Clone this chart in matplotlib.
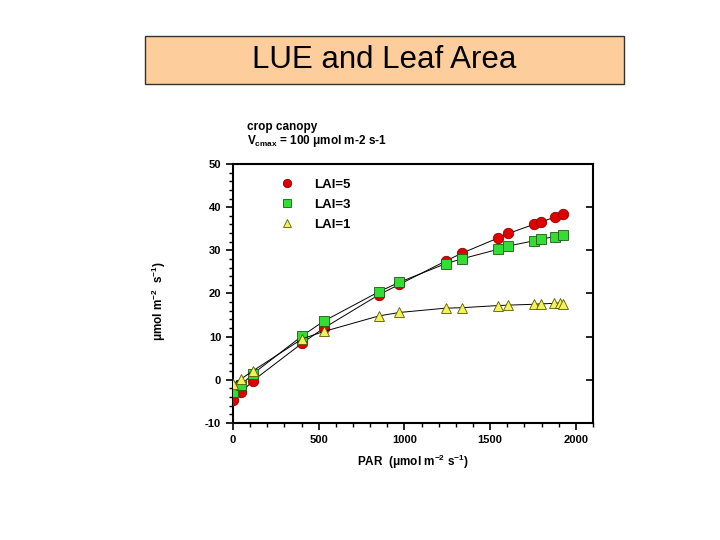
import matplotlib
matplotlib.use("Agg")
import matplotlib.pyplot as plt
from matplotlib.patches import Rectangle
from matplotlib.ticker import MultipleLocator

plt.rcParams['font.family'] = ['Liberation Sans', 'DejaVu Sans']
plt.rcParams['mathtext.default'] = 'regular'
plt.rcParams['axes.unicode_minus'] = False

# PAR (umol m-2 s-1)
par = [0, 47, 117, 404, 530, 851, 970, 1240, 1333, 1543, 1606, 1754, 1799, 1878, 1925]
par_lai1 = [0, 47, 117, 404, 530, 851, 970, 1240, 1333, 1543, 1606, 1754, 1799, 1870, 1905, 1925]

lai5 = [-4.6, -2.9, -0.2, 8.5, 12.0, 19.7, 22.1, 27.5, 29.3, 32.8, 33.9, 36.0, 36.6, 37.7, 38.3]
lai3 = [-2.9, -1.2, 1.4, 10.2, 13.6, 20.4, 22.6, 26.9, 28.0, 30.2, 31.0, 32.2, 32.6, 33.2, 33.5]
lai1 = [-0.9, 0.2, 2.1, 9.5, 11.2, 14.8, 15.6, 16.6, 16.7, 17.2, 17.3, 17.5, 17.6, 17.7, 17.8, 17.6]

x_ticks = [0, 500, 1000, 1500, 2000]
y_ticks = [-10, 0, 10, 20, 30, 40, 50]

fig = plt.figure(figsize=(7.2, 5.4), dpi=100)

# slide title box
fig.patches.append(Rectangle((0.2014, 0.8444), 0.6653, 0.0889, transform=fig.transFigure,
                             facecolor='#FDCD9C', edgecolor='#333333', linewidth=1.0))
fig.text(0.534, 0.889, 'LUE and Leaf Area', ha='center', va='center', fontsize=22.5)

ax = fig.add_axes([0.3236, 0.2167, 0.5, 0.4796])

ax.plot(par, lai5, '-', color='black', lw=0.7, marker='o', ms=7.5,
        mfc='#E00000', mec='#8B0000', mew=0.6, label='LAI=5', zorder=3)
ax.plot(par, lai3, '-', color='black', lw=0.7, marker='s', ms=6.5,
        mfc='#33DD33', mec='#1A5A1A', mew=0.6, label='LAI=3', zorder=3)
ax.plot(par_lai1, lai1, '-', color='black', lw=0.7, marker='^', ms=7.5,
        mfc='#F2F25A', mec='#5A5A00', mew=0.6, label='LAI=1', zorder=3)

ax.set_xlim(0, 2100)
ax.set_ylim(-10, 50)
ax.set_xticks(x_ticks)
ax.set_yticks(y_ticks)
ax.xaxis.set_minor_locator(MultipleLocator(100))
ax.yaxis.set_minor_locator(MultipleLocator(2))
ax.tick_params(which='major', direction='out', length=5, width=1.2,
               labelsize=8, top=False, right=False)
ax.tick_params(which='minor', direction='out', length=3, width=1.0, top=False, right=False)
for lab in ax.get_xticklabels() + ax.get_yticklabels():
    lab.set_fontweight('bold')
for sp in ax.spines.values():
    sp.set_linewidth(1.5)

# inward ticks on the right spine
ax2 = ax.twinx()
ax2.set_ylim(-10, 50)
ax2.set_yticks(y_ticks)
ax2.tick_params(direction='in', length=5, width=1.2, labelright=False)
for sp in ax2.spines.values():
    sp.set_visible(False)

ax.set_xlabel(r'PAR  ($\mu$mol m$^{-2}$ s$^{-1}$)', fontsize=8.5, fontweight='bold', labelpad=6)
ax.set_ylabel(r'$\mu$mol m$^{-2}$  s$^{-1}$)', fontsize=8.5, fontweight='bold')
ax.yaxis.set_label_coords(-0.18, 0.47)

fig.text(0.343, 0.765, 'crop canopy', ha='left', va='center', fontsize=8.5, fontweight='bold')
fig.text(0.343, 0.738, r'V$_{cmax}$ = 100 $\mu$mol m-2 s-1', ha='left', va='center',
         fontsize=8.5, fontweight='bold')

leg = ax.legend(loc='upper left', bbox_to_anchor=(0.1, 0.99), frameon=False,
                prop={'size': 9.5, 'weight': 'bold'}, labelspacing=0.6,
                handlelength=1.0, handletextpad=1.5, markerscale=0.8)
for h in leg.get_lines():
    h.set_linestyle('none')

fig.savefig('out.png', dpi=100)
